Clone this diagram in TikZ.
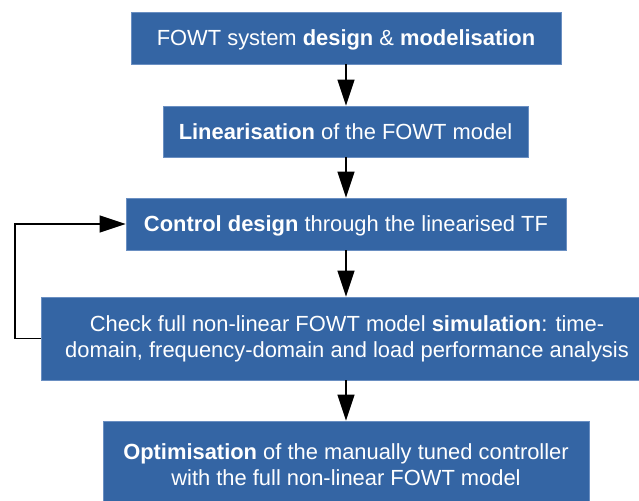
\documentclass[tikz,border=0pt]{standalone}
\usepackage{fontspec}
\setmainfont{Liberation Sans}
\usetikzlibrary{arrows.meta}
\definecolor{boxblue}{HTML}{3465A4}
\definecolor{boxedge}{HTML}{6A8FC2}
\begin{document}
\begin{tikzpicture}[x=1pt,y=-1pt,
  stagebox/.style={rectangle, fill=boxblue, draw=boxedge, line width=0.8pt,
    text=white, inner sep=0pt, align=center,
    font=\fontsize{21.9}{26}\selectfont},
  oneline/.style={text height=15.7pt, text depth=0pt},
  flow/.style={line width=1.5pt, -{Triangle[length=26pt,width=17pt]}}]
\clip (0,0) rectangle (639,500);
\fill[white] (0,0) rectangle (639,500);
\node[stagebox, oneline, minimum width=430pt, minimum height=52pt] (b1) at (346,38)
  {FOWT system \textbf{design} \& \textbf{modelisation}};
\node[stagebox, oneline, minimum width=365pt, minimum height=51pt] (b2) at (345.5,131.5)
  {\textbf{Linearisation} of the FOWT model};
\node[stagebox, oneline, minimum width=440pt, minimum height=52pt] (b3) at (346,224)
  {\textbf{Control design} through the linearised TF};
\node[stagebox, minimum width=612pt, minimum height=83pt] (b4) at (347,338.5)
  {Check full non-linear FOWT model \textbf{simulation}: time-\\domain, frequency-domain and load performance analysis};
\node[stagebox, minimum width=486pt, minimum height=88pt] (b5) at (346,465)
  {\textbf{Optimisation} of the manually tuned controller\\with the full non-linear FOWT model};
\coordinate (fb) at (15,0);
\draw[flow] (b1.south) -- (b1.south |- b2.north);
\draw[flow] (b2.south -| b1.south) -- (b1.south |- b3.north);
\draw[flow] (b3.south) -- (b3.south |- b4.north);
\draw[flow] (b5.north |- b4.south) -- (b5.north);
\draw[flow] (b4.west) -- (b4.west -| fb) |- (b3.west);
\end{tikzpicture}
\end{document}
